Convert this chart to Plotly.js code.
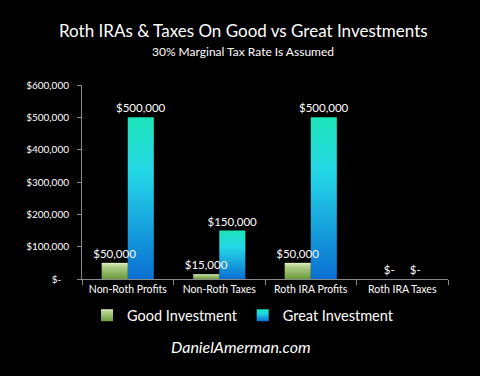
<!DOCTYPE html>
<html>
<head>
<meta charset="utf-8">
<script src="https://cdn.plot.ly/plotly-3.0.1.min.js"></script>
<style>
html,body{margin:0;padding:0;background:#000;}
#chart{width:480px;height:376px;}
</style>
</head>
<body>
<div id="chart"></div>
<script>
var categories = ["Non-Roth Profits", "Non-Roth Taxes", "Roth IRA Profits", "Roth IRA Taxes"];
var goodValues = [50000, 15000, 50000, 0];
var greatValues = [500000, 150000, 500000, 0];
var goodLabels = ["$50,000", "$15,000", "$50,000", "$-"];
var greatLabels = ["$500,000", "$150,000", "$500,000", "$-"];
var yTickVals = [0, 100000, 200000, 300000, 400000, 500000, 600000];
var yTickText = ["$-   ", "$100,000", "$200,000", "$300,000", "$400,000", "$500,000", "$600,000"];

var fontFam = "Lato, 'Open Sans', sans-serif";

var traces = [
  {
    type: "bar", name: "Good Investment", x: categories, y: goodValues,
    text: goodLabels, textposition: "outside", cliponaxis: false, constraintext: "none",
    textfont: {color: "#ffffff", size: 11.5, family: fontFam},
    marker: {color: "#8fb866", line: {width: 0}}
  },
  {
    type: "bar", name: "Great Investment", x: categories, y: greatValues,
    text: greatLabels, textposition: "outside", cliponaxis: false, constraintext: "none",
    textfont: {color: "#ffffff", size: 11.5, family: fontFam},
    marker: {color: "#18a6e6", line: {width: 0}}
  }
];

var layout = {
  width: 480, height: 376,
  paper_bgcolor: "#000000", plot_bgcolor: "#000000",
  margin: {l: 82, r: 32, t: 85, b: 97},
  font: {family: fontFam, color: "#ffffff"},
  barmode: "group", bargap: 0.43, bargroupgap: 0,
  showlegend: true,
  legend: {orientation: "h", x: 0.44, xanchor: "center", y: -0.105, yanchor: "top",
    font: {size: 14.5, color: "#ffffff", family: fontFam}, bgcolor: "rgba(0,0,0,0)",
    itemwidth: 30, traceorder: "normal"},
  xaxis: {
    type: "category", showgrid: false, zeroline: false,
    showline: true, linecolor: "#8a8a8a", linewidth: 1,
    ticks: "outside", tickson: "boundaries", ticklen: 5, tickcolor: "#8a8a8a",
    tickfont: {size: 10.5, color: "#ffffff", family: fontFam}
  },
  yaxis: {
    range: [0, 600000], showgrid: false, zeroline: false,
    showline: true, linecolor: "#8a8a8a", linewidth: 1,
    ticks: "outside", ticklen: 4, tickcolor: "#8a8a8a", ticklabelstandoff: 6,
    tickvals: yTickVals, ticktext: yTickText,
    tickfont: {size: 10, color: "#ffffff", family: fontFam}
  },
  annotations: [
    {text: "Roth IRAs & Taxes On Good vs Great Investments", xref: "paper", yref: "paper",
     x: 0.44, y: 1.0, xanchor: "center", yanchor: "bottom", yshift: 42, showarrow: false,
     font: {size: 17, color: "#ffffff", family: fontFam}},
    {text: "30% Marginal Tax Rate Is Assumed", xref: "paper", yref: "paper",
     x: 0.44, y: 1.0, xanchor: "center", yanchor: "bottom", yshift: 24, showarrow: false,
     font: {size: 12, color: "#ffffff", family: fontFam}},
    {text: "<i>DanielAmerman.com</i>", xref: "paper", yref: "paper",
     x: 0.435, y: 0, xanchor: "center", yanchor: "middle", yshift: -67, showarrow: false,
     font: {size: 16, color: "#ffffff", family: fontFam}}
  ]
};

Plotly.newPlot("chart", traces, layout, {displayModeBar: false, staticPlot: true}).then(function(gd){
  var svg = gd.querySelector("svg.main-svg");
  var ns = "http://www.w3.org/2000/svg";
  var defs = document.createElementNS(ns, "defs");
  function grad(id, stops){
    var g = document.createElementNS(ns, "linearGradient");
    g.setAttribute("id", id); g.setAttribute("x1","0"); g.setAttribute("y1","0");
    g.setAttribute("x2","0"); g.setAttribute("y2","1");
    stops.forEach(function(s){
      var st = document.createElementNS(ns, "stop");
      st.setAttribute("offset", s[0]); st.setAttribute("stop-color", s[1]);
      g.appendChild(st);
    });
    defs.appendChild(g);
  }
  grad("gGood", [["0","#e6f2cf"],["0.2","#b4d38c"],["1","#6a9a3e"]]);
  grad("gGreat", [["0","#1de3b8"],["0.35","#24d6e8"],["1","#0a6fd2"]]);
  svg.insertBefore(defs, svg.firstChild);
  var bars = gd.querySelectorAll(".barlayer .trace");
  if (bars[0]) bars[0].querySelectorAll("path").forEach(function(p){ p.style.fill = "url(#gGood)"; });
  if (bars[1]) bars[1].querySelectorAll("path").forEach(function(p){ p.style.fill = "url(#gGreat)"; });
  if (bars[0] && bars[0].parentNode) bars[0].parentNode.appendChild(bars[0]);
  var leg = gd.querySelectorAll(".legend .traces");
  if (leg[0]) leg[0].querySelectorAll("path").forEach(function(p){ p.style.fill = "url(#gGood)"; });
  if (leg[1]) leg[1].querySelectorAll("path").forEach(function(p){ p.style.fill = "url(#gGreat)"; });
});
</script>
</body>
</html>
